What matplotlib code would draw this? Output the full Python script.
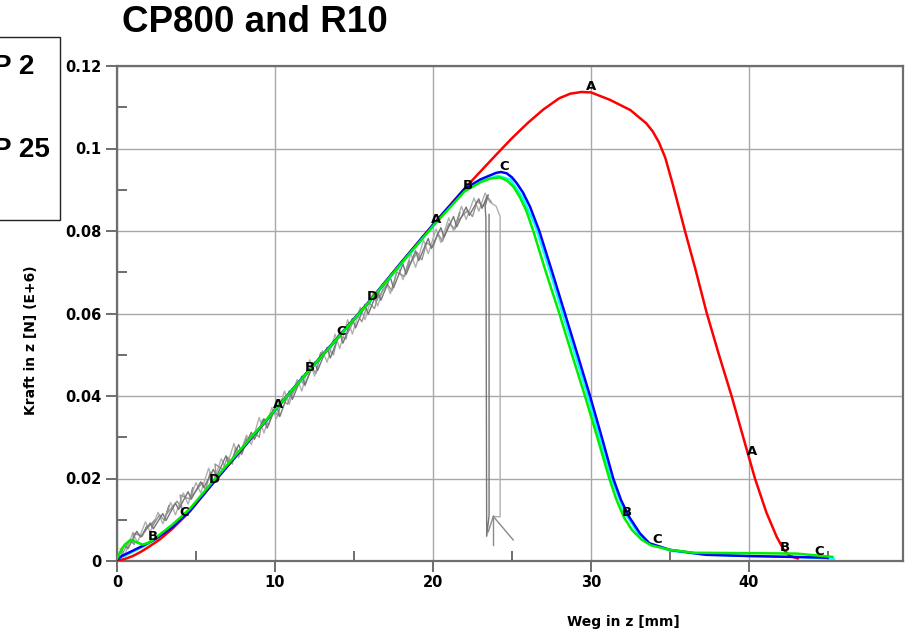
import numpy as np
import matplotlib
matplotlib.use("Agg")
import matplotlib.pyplot as plt
from matplotlib.patches import Rectangle
from matplotlib.ticker import FixedLocator, FixedFormatter

# ---- data: displacement [mm] vs. force [N] (E+6) ----
red_x = [0, 0.5, 1, 1.5, 2, 2.7, 3.5, 4.6, 6, 8, 10, 12, 14, 16, 18, 20, 22, 24, 25, 26, 27, 28,
         28.7, 29.4, 30, 31.2, 32.5, 33.5, 33.9, 34.3, 34.7, 35.2, 35.95, 36.6, 37.32, 38.1,
         38.9, 39.6, 40.38, 41.1, 41.75, 42.2, 42.6, 43.1]
red_y = [0, 0.0005, 0.0012, 0.0022, 0.0034, 0.0052, 0.0078, 0.0120, 0.0185, 0.0275, 0.0366,
         0.0455, 0.0542, 0.0630, 0.0724, 0.0815, 0.0903, 0.0985, 0.1025, 0.1062, 0.1095, 0.1122,
         0.1133, 0.1137, 0.1136, 0.1118, 0.1093, 0.1061, 0.1042, 0.1015, 0.0978, 0.0910,
         0.0800, 0.0709, 0.0602, 0.0500, 0.0400, 0.0305, 0.0200, 0.0118, 0.0059, 0.0027,
         0.0012, 0.0006]

blue_x = [0, 0.3, 1.0, 1.7, 2.5, 3.5, 4.6, 6, 8, 10, 12, 14, 16, 18, 20, 22, 23, 24.0, 24.3,
          24.66, 25.0, 25.3, 25.7, 26.14, 26.73, 27.55, 28.35, 29.15, 29.94, 30.7, 31.41, 31.9,
          32.4, 33.1, 33.7, 35.0, 37.3, 40.0, 42.6, 45.0]
blue_y = [0.0003, 0.0012, 0.0025, 0.0038, 0.0055, 0.0082, 0.0121, 0.0186, 0.0276, 0.0366,
          0.0456, 0.0543, 0.0631, 0.0724, 0.0815, 0.0902, 0.0925, 0.0941, 0.0943, 0.0940,
          0.0930, 0.0916, 0.0893, 0.0859, 0.0800, 0.0700, 0.0600, 0.0500, 0.0400, 0.0298,
          0.0200, 0.0148, 0.0108, 0.0067, 0.0043, 0.0027, 0.0015, 0.0012, 0.0010, 0.0008]

green_x = [0, 0.2, 0.5, 0.85, 1.2, 1.6, 2.0, 2.5, 3.5, 4.6, 6, 8, 10, 12, 14, 16, 18, 20, 22,
           23, 23.6, 24.24, 24.7, 25.1, 25.5, 25.9, 26.35, 27.15, 28.0, 28.8, 29.62, 30.4,
           31.16, 31.6, 32.1, 32.6, 33.2, 33.8, 35.0, 36.5, 40.0, 43.0, 45.3]
green_y = [0.0005, 0.0022, 0.0040, 0.0051, 0.0046, 0.0040, 0.0044, 0.0058, 0.0088, 0.0126,
           0.0190, 0.0278, 0.0366, 0.0455, 0.0542, 0.0630, 0.0722, 0.0812, 0.0896, 0.0918,
           0.0927, 0.0930, 0.0922, 0.0907, 0.0882, 0.0850, 0.0800, 0.0700, 0.0600, 0.0500,
           0.0400, 0.0300, 0.0200, 0.0150, 0.0105, 0.0075, 0.0052, 0.0038, 0.0027, 0.0020,
           0.0019, 0.0018, 0.0010]

cyan_x = [0, 1, 2, 3.5, 4.6, 6, 8, 10, 12, 14, 16, 18, 20, 22, 23, 24.1, 24.9, 25.7, 26.5,
          27.5, 28.2, 29.0, 29.8, 30.5, 31.3, 32.1, 33.0, 33.7, 35.0, 37.0, 40.0, 43.0, 45.4]
cyan_y = [0.0003, 0.0022, 0.0042, 0.0080, 0.0119, 0.0184, 0.0274, 0.0364, 0.0453, 0.0540,
          0.0628, 0.0720, 0.0811, 0.0898, 0.0920, 0.0934, 0.0925, 0.0880, 0.0810, 0.0690,
          0.0600, 0.0500, 0.0400, 0.0305, 0.0200, 0.0120, 0.0066, 0.0042, 0.0025, 0.0016,
          0.0012, 0.0010, 0.0005]

# measured test curves (noisy)
test1_x = [0.0, 0.45, 0.7, 1.25, 1.5, 2.1, 2.3, 2.9, 3.1, 3.7, 3.9, 4.5, 4.7, 5.3, 5.5, 6.1,
           6.3, 6.9, 7.1, 7.7, 7.9, 8.5, 8.7, 9.3, 9.5, 10.1, 10.3, 10.9, 11.1, 11.7, 11.9,
           12.5, 12.7, 13.3, 13.5, 14.1, 14.3, 14.9, 15.1, 15.7, 15.9, 16.5, 16.7, 17.3, 17.5,
           18.1, 18.3, 18.9, 19.1, 19.7, 19.9, 20.5, 20.7, 21.3, 21.5, 22.1, 22.3, 22.9, 23.1,
           23.5, 23.3, 23.35, 23.4, 23.55, 23.55]
test1_y = [0.0005, 0.0038, 0.0030, 0.0072, 0.0058, 0.0092, 0.0078, 0.0115, 0.0098, 0.0140,
           0.0125, 0.0168, 0.0150, 0.0192, 0.0178, 0.0222, 0.0205, 0.0255, 0.0232, 0.0282,
           0.0262, 0.0312, 0.0295, 0.0345, 0.0322, 0.0378, 0.0350, 0.0412, 0.0392, 0.0448,
           0.0428, 0.0482, 0.0462, 0.0518, 0.0492, 0.0552, 0.0528, 0.0588, 0.0565, 0.0622,
           0.0598, 0.0655, 0.0632, 0.0688, 0.0662, 0.0720, 0.0695, 0.0752, 0.0728, 0.0782,
           0.0758, 0.0808, 0.0785, 0.0835, 0.0810, 0.0858, 0.0838, 0.0878, 0.0855, 0.0888,
           0.0860, 0.0830, 0.0060, 0.0110, 0.0840]

test2_x = [0.2, 0.5, 1.0, 1.3, 1.8, 2.1, 2.6, 2.9, 3.4, 3.7, 4.2, 4.5, 5.0, 5.3, 5.8, 6.1, 6.6,
           6.9, 7.4, 7.7, 8.2, 8.5, 9.0, 9.3, 9.8, 10.1, 10.6, 10.9, 11.4, 11.7, 12.2, 12.5,
           13.0, 13.3, 13.8, 14.1, 14.6, 14.9, 15.4, 15.7, 16.2, 16.5, 17.0, 17.3, 17.8, 18.1,
           18.6, 18.9, 19.4, 19.7, 20.2, 20.5, 21.0, 21.3, 21.8, 22.1, 22.6, 22.9, 23.3, 23.6,
           24.0, 24.25, 24.25, 23.85]
test2_y = [0.0030, 0.0015, 0.0068, 0.0045, 0.0095, 0.0070, 0.0118, 0.0090, 0.0142, 0.0112,
           0.0165, 0.0138, 0.0190, 0.0165, 0.0225, 0.0190, 0.0248, 0.0222, 0.0285, 0.0250,
           0.0305, 0.0282, 0.0348, 0.0310, 0.0372, 0.0345, 0.0412, 0.0380, 0.0440, 0.0412,
           0.0488, 0.0448, 0.0510, 0.0482, 0.0550, 0.0515, 0.0585, 0.0550, 0.0615, 0.0585,
           0.0650, 0.0618, 0.0680, 0.0648, 0.0712, 0.0682, 0.0745, 0.0712, 0.0778, 0.0745,
           0.0805, 0.0772, 0.0832, 0.0800, 0.0860, 0.0828, 0.0880, 0.0848, 0.0892, 0.0870,
           0.0860, 0.0835, 0.0107, 0.0108]

test3_x = [0.1, 0.35, 0.3, 0.8, 1.1, 1.0, 1.6, 1.9, 1.7, 2.4, 2.2, 2.7, 3.0, 3.3, 3.1, 3.8,
           4.1, 4.0, 4.6, 4.8, 4.7, 5.4, 5.6, 5.9, 6.3, 6.2, 6.7, 7.0, 7.3, 7.5, 7.9, 8.2, 8.0,
           8.7, 9.0, 9.2, 9.6, 9.9, 10.2, 10.4, 10.8, 11.1, 11.0, 11.6, 11.9, 12.3, 12.6, 12.9,
           12.7, 13.4, 13.7, 14.0, 14.5, 14.7, 14.6, 15.2, 15.5, 15.9, 16.3, 16.6, 16.4, 17.1,
           17.4, 17.7, 18.2, 18.5, 18.3, 19.0, 19.3, 19.6, 20.0, 20.3, 20.6, 21.0, 21.4, 21.7,
           21.5, 22.2, 22.5, 22.8, 23.2, 23.4, 23.7]
test3_y = [0.0010, 0.0035, 0.0015, 0.0050, 0.0040, 0.0068, 0.0060, 0.0085, 0.0070, 0.0100,
           0.0082, 0.0112, 0.0098, 0.0135, 0.0112, 0.0145, 0.0128, 0.0160, 0.0150, 0.0178,
           0.0155, 0.0190, 0.0172, 0.0215, 0.0200, 0.0235, 0.0222, 0.0252, 0.0235, 0.0275,
           0.0258, 0.0298, 0.0280, 0.0312, 0.0300, 0.0342, 0.0330, 0.0368, 0.0352, 0.0392,
           0.0380, 0.0418, 0.0398, 0.0440, 0.0425, 0.0470, 0.0455, 0.0505, 0.0480, 0.0515,
           0.0500, 0.0548, 0.0538, 0.0578, 0.0552, 0.0598, 0.0580, 0.0628, 0.0612, 0.0655,
           0.0630, 0.0672, 0.0655, 0.0700, 0.0690, 0.0728, 0.0705, 0.0748, 0.0730, 0.0772,
           0.0760, 0.0795, 0.0775, 0.0818, 0.0805, 0.0845, 0.0822, 0.0850, 0.0835, 0.0872,
           0.0860, 0.0885, 0.0870]

# fracture tip fragments
tip_x = [[23.82, 23.50], [23.82, 23.82], [23.82, 25.08]]
tip_y = [[0.0108, 0.0071], [0.0108, 0.0039], [0.0108, 0.0051]]

# curve identifiers
label_text = ["A", "A", "A", "A",
              "B", "B", "B", "B", "B",
              "C", "C", "C", "C", "C",
              "D", "D"]
label_curve = ["red", "red", "red", "red",
               "green", "green", "green", "green", "green",
               "blue", "blue", "blue", "blue", "blue",
               "cyan", "cyan"]
label_x = [10, 20, 29.8, 40.0,
           2.1, 12, 22, 32.1, 42.1,
           4.1, 14, 24.3, 34.0, 44.3,
           6.0, 16.0]

xticks = [0, 10, 20, 30, 40]
xtick_labels = ["0", "10", "20", "30", "40"]
xminor = [5, 15, 25, 35, 45]
yticks = [0, 0.02, 0.04, 0.06, 0.08, 0.1, 0.12]
ytick_labels = ["0", "0.02", "0.04", "0.06", "0.08", "0.1", "0.12"]
yminor = [0.01, 0.03, 0.05, 0.07, 0.09, 0.11]

# ---- figure ----
W, H = 907, 635
fig = plt.figure(figsize=(W / 100, H / 100), dpi=100)
ax = fig.add_axes([117 / W, 74 / H, 786 / W, 495 / H])

ax.plot(test2_x, test2_y, color="#b0b0b0", lw=1.0, zorder=2)
ax.plot(test3_x, test3_y, color="#959595", lw=1.0, zorder=2.05)
ax.plot(test1_x, test1_y, color="#767676", lw=1.0, zorder=2.1)
for tx, ty in zip(tip_x, tip_y):
    ax.plot(tx, ty, color="#8a8a8a", lw=1.0, zorder=2.1)

curves = {
    "cyan": (cyan_x, cyan_y, "#00ffff", 1.6),
    "red": (red_x, red_y, "#ff0000", 1.8),
    "blue": (blue_x, blue_y, "#0000ff", 1.8),
    "green": (green_x, green_y, "#00ee00", 1.8),
}
for i, (name, (cx, cy, col, lw)) in enumerate(curves.items()):
    ax.plot(cx, cy, color=col, lw=lw, zorder=3 + i,
            solid_capstyle="round", solid_joinstyle="round")

for txt, cname, lx in zip(label_text, label_curve, label_x):
    cx, cy = curves[cname][0], curves[cname][1]
    ly = float(np.interp(lx, cx, cy))
    ax.annotate(txt, (lx, ly), xytext=(2, 4), textcoords="offset points",
                ha="center", va="center", fontsize=9.5, fontweight="bold",
                family="DejaVu Sans", color="black", zorder=10)

ax.set_xlim(0, 49.75)
ax.set_ylim(0, 0.12)

ax.xaxis.set_major_locator(FixedLocator(xticks))
ax.xaxis.set_major_formatter(FixedFormatter(xtick_labels))
ax.xaxis.set_minor_locator(FixedLocator(xminor))
ax.yaxis.set_major_locator(FixedLocator(yticks))
ax.yaxis.set_major_formatter(FixedFormatter(ytick_labels))
ax.yaxis.set_minor_locator(FixedLocator(yminor))

ax.tick_params(axis="x", which="major", direction="out", length=8, width=1.2,
               color="#555555", pad=2, labelsize=10.5)
ax.tick_params(axis="y", which="major", direction="out", length=8, width=1.2,
               color="#555555", pad=3, labelsize=10.5)
ax.tick_params(which="minor", direction="in", length=7, width=1.2, color="#555555")
for lab in ax.get_xticklabels() + ax.get_yticklabels():
    lab.set_fontweight("bold")
    lab.set_family("DejaVu Sans")

ax.grid(True, which="major", color="#a8a8a8", lw=1.0)
ax.set_axisbelow(True)
for sp in ax.spines.values():
    sp.set_color("#6e6e6e")
    sp.set_linewidth(1.6)

ax.set_xlabel("Weg in z [mm]", fontsize=10, fontweight="bold", family="DejaVu Sans", va="center")
ax.xaxis.set_label_coords(0.644, -0.123)
ax.set_ylabel("Kraft in z [N] (E+6)", fontsize=10, fontweight="bold", family="DejaVu Sans",
              va="center", ha="center")
ax.yaxis.set_label_coords(-0.109, 0.446)

fig.text(255 / W, 1 - 22 / H, "CP800 and R10", ha="center", va="center",
         fontsize=26.5, fontweight="bold", family="Liberation Sans")

# legend-like box on the left edge
fig.patches.append(Rectangle((-10 / W, 1 - 220 / H), 70 / W, 183 / H,
                             transform=fig.transFigure, fill=False,
                             edgecolor="#222222", lw=1.0))
fig.text(-7 / W, 1 - 67 / H, "P 2", ha="left", va="center", fontsize=20,
         fontweight="bold", family="Liberation Sans")
fig.text(-7 / W, 1 - 150 / H, "P 25", ha="left", va="center", fontsize=20,
         fontweight="bold", family="Liberation Sans")

fig.savefig("out.png", dpi=100)
